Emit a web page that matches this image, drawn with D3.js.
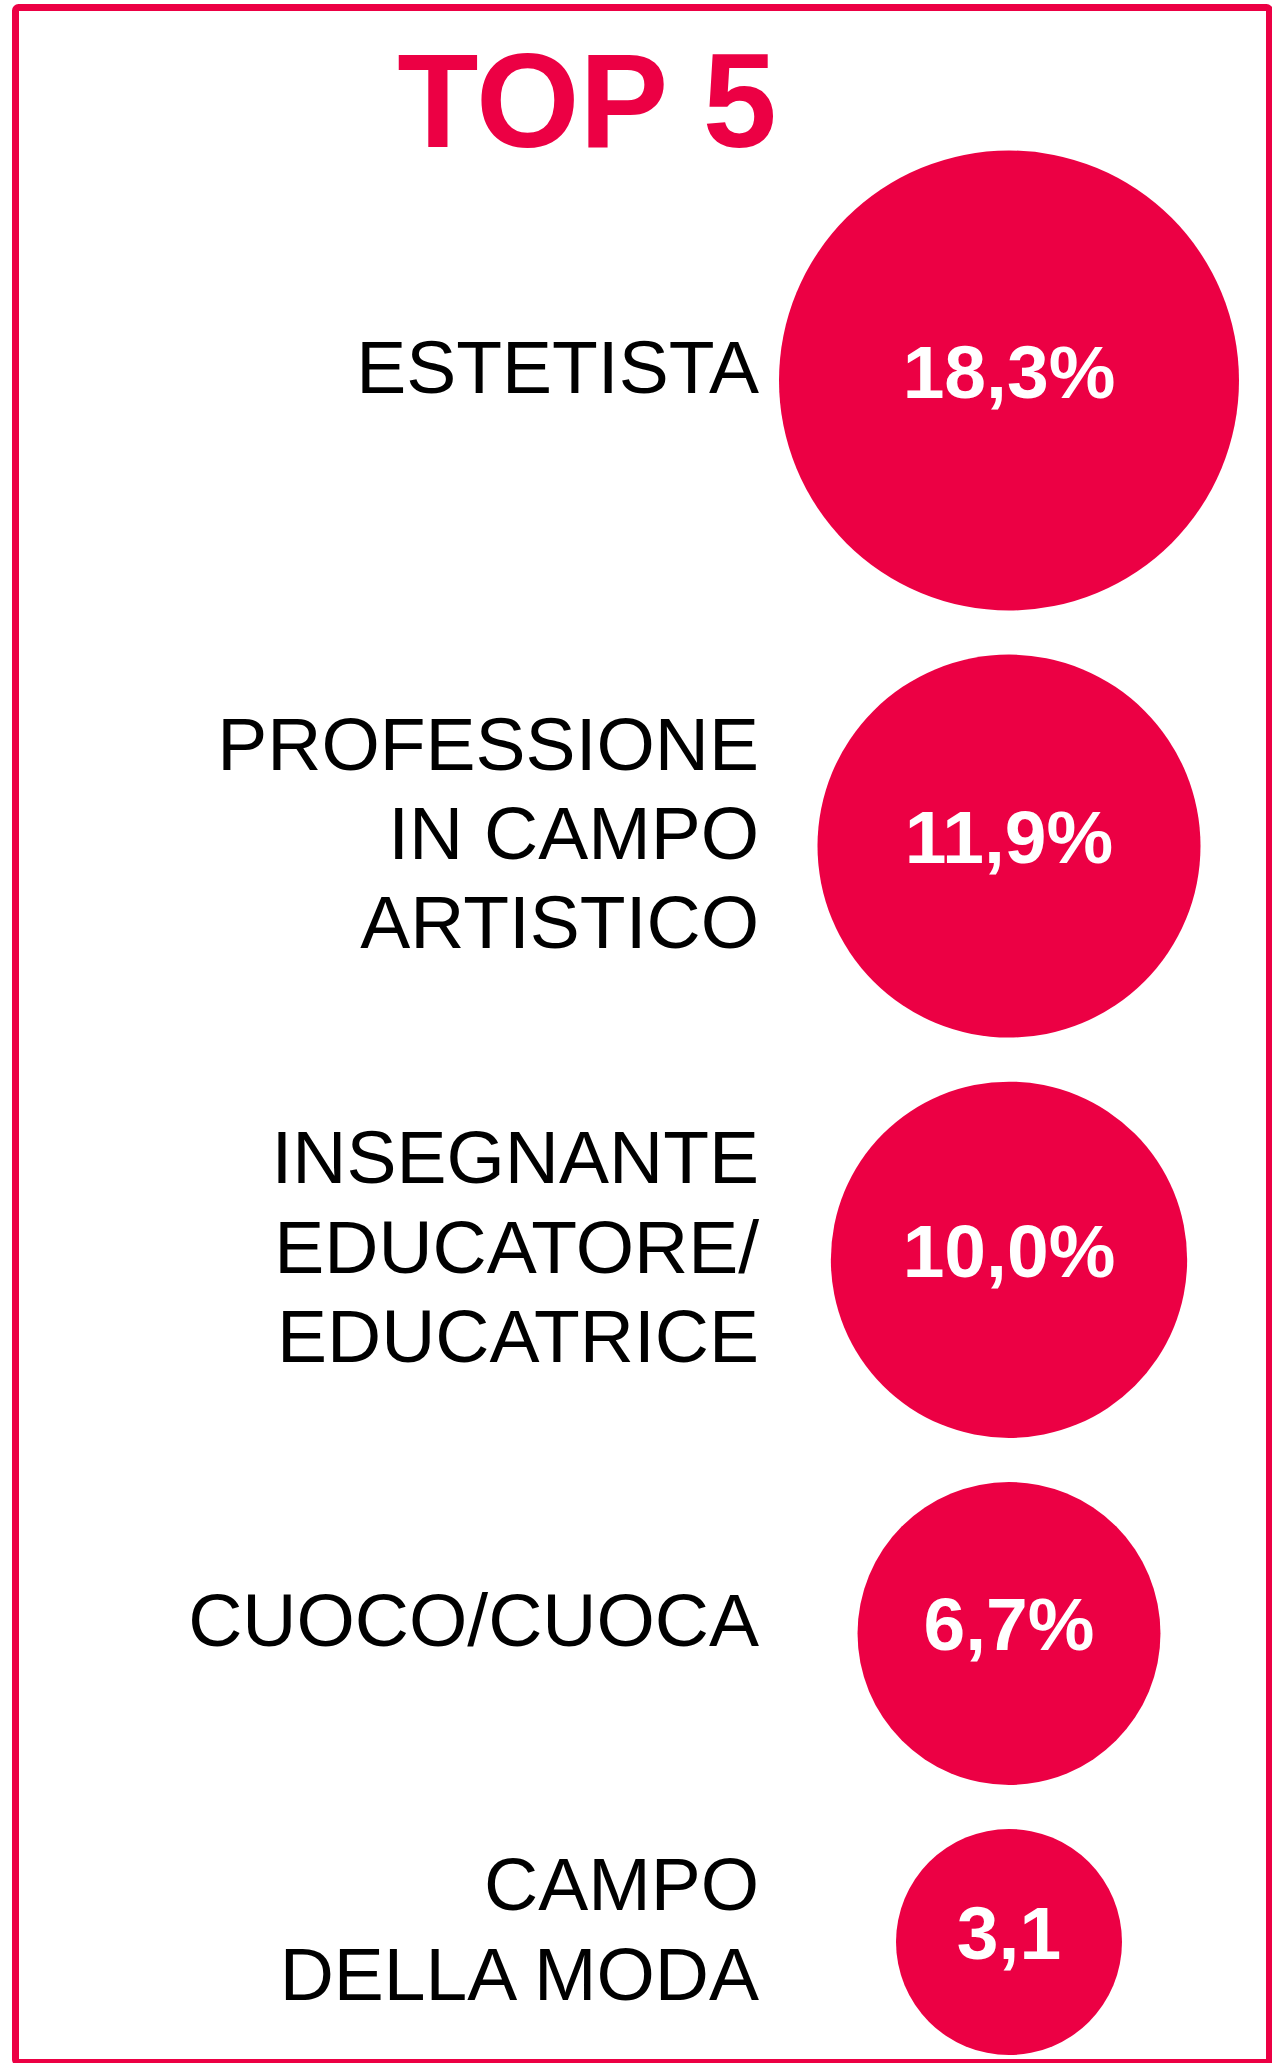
<!DOCTYPE html>
<html>
<head>
<meta charset="utf-8">
<script src="https://cdn.jsdelivr.net/npm/d3@7/dist/d3.min.js"></script>
<style>
  html, body { margin: 0; padding: 0; background: #fff; }
  svg { display: block; }
  text { font-family: "Liberation Sans", Arial, sans-serif; }
</style>
</head>
<body>
<svg id="chart" width="1272" height="2063"></svg>
<script>
// ---- data ----
const title = "TOP 5";
const categories = [
  ["ESTETISTA"],
  ["PROFESSIONE", "IN CAMPO", "ARTISTICO"],
  ["INSEGNANTE", "EDUCATORE/", "EDUCATRICE"],
  ["CUOCO/CUOCA"],
  ["CAMPO", "DELLA MODA"]
];
const values = [18.3, 11.9, 10.0, 6.7, 3.1];
const valueLabels = ["18,3%", "11,9%", "10,0%", "6,7%", "3,1"];

// ---- layout ----
const W = 1272, H = 2063;
const accent = "#EC0044";
const svg = d3.select("#chart");

// frame
svg.append("rect")
  .attr("x", 15.5).attr("y", 7.5)
  .attr("width", 1254).attr("height", 2055)
  .attr("rx", 3)
  .attr("fill", "none")
  .attr("stroke", accent)
  .attr("stroke-width", 7);

// title
svg.append("text")
  .attr("x", 587).attr("y", 147)
  .attr("text-anchor", "middle")
  .attr("font-size", 133)
  .attr("font-weight", "bold")
  .attr("fill", accent)
  .text(title);

// radius scale (sqrt of share)
const rScale = d3.scaleLinear()
  .domain(d3.extent(values, v => Math.sqrt(v)))
  .range([113, 230]);

const radii = values.map(v => rScale(Math.sqrt(v)));
const stackTop = 150.5, stackBottom = 2055;
const gap = (stackBottom - stackTop - 2 * d3.sum(radii)) / (values.length - 1);
const cys = [];
let yCur = stackTop;
radii.forEach(r => { cys.push(yCur + r); yCur += 2 * r + gap; });

const cx = 1009;
const labelRight = 759;
const fontSize = 75;
const lineH = 89.3;
const capH = fontSize * 0.716;

const g = svg.append("g");
const items = g.selectAll("g.item")
  .data(values.map((v, i) => ({ v, i, r: radii[i], cy: cys[i], lines: categories[i], lab: valueLabels[i] })))
  .join("g").attr("class", "item");

items.append("circle")
  .attr("cx", cx)
  .attr("cy", d => d.cy)
  .attr("r", d => d.r)
  .attr("fill", accent);

items.append("text")
  .attr("x", cx)
  .attr("y", d => d.cy + 17)
  .attr("text-anchor", "middle")
  .attr("font-size", 75)
  .attr("font-weight", "bold")
  .attr("fill", "#fff")
  .text(d => d.lab);

items.each(function(d) {
  const n = d.lines.length;
  const blockCenter = d.cy - 14;
  const firstBaseline = blockCenter - ((n - 1) * lineH) / 2 + capH / 2;
  const t = d3.select(this).append("text")
    .attr("text-anchor", "end")
    .attr("font-size", fontSize)
    .attr("fill", "#000");
  d.lines.forEach((line, k) => {
    t.append("tspan")
      .attr("x", labelRight)
      .attr("y", firstBaseline + k * lineH)
      .text(line);
  });
});
</script>
</body>
</html>
